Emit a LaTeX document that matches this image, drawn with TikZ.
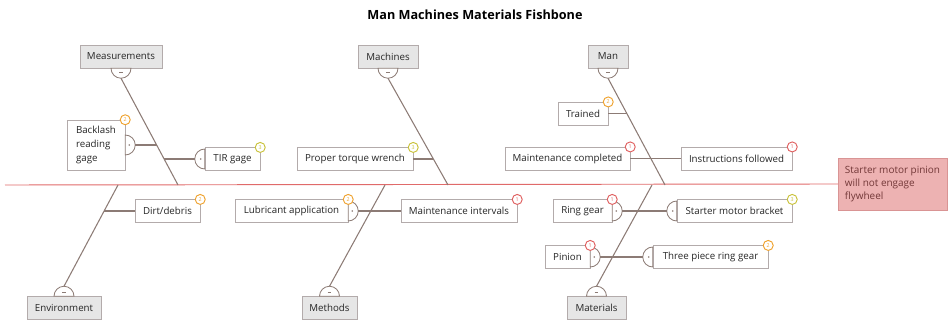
\documentclass[tikz,border=0pt]{standalone}
\usepackage{fontspec}
\setmainfont{Open Sans}
\usetikzlibrary{positioning}

\definecolor{bonecol}{HTML}{8C7B75}
\definecolor{spinecol}{HTML}{E06A6A}
\definecolor{boxline}{HTML}{B3ABAB}
\definecolor{catfill}{HTML}{E6E6E6}
\definecolor{effectfill}{HTML}{EDB2B2}
\definecolor{effectline}{HTML}{D99494}
\definecolor{txtcol}{HTML}{262626}
\definecolor{effecttxt}{HTML}{733838}
\definecolor{bred}{HTML}{E06060}
\definecolor{borange}{HTML}{EFA22E}
\definecolor{byellow}{HTML}{C9C23A}

\begin{document}
\begin{tikzpicture}[x=0.03cm,y=-0.03cm,
  every node/.style={font=\fontsize{8.3}{9.5}\selectfont,text=txtcol},
  bw/.style={minimum width=#1*0.03cm},
  catbox/.style={draw=boxline,fill=catfill,minimum height=0.69cm,inner sep=2pt},
  causebox/.style={draw=boxline,fill=white,minimum height=0.68cm,inner sep=2pt},
  bone/.style={draw=bonecol,line width=0.9pt},
  knob/.style={draw=bonecol,fill=white,line width=0.7pt},
  badge/.style={circle,draw=#1,fill=white,text=#1,line width=0.8pt,inner sep=0pt,
    minimum size=0.3cm,font=\fontsize{4.5}{4.5}\selectfont}]
\useasboundingbox (0,0) rectangle (949,320);

% title
\node[font=\bfseries\fontsize{10.8}{12}\selectfont,text=black] (title) at (475,15) {Man Machines Materials Fishbone};

% effect and spine
\node[draw=effectline,fill=effectfill,text=effecttxt,bw=109,minimum height=1.56cm,
  align=left,inner sep=4pt,font=\fontsize{8.5}{11}\selectfont] (effect) at (892.5,184) {Starter motor pinion\\will not engage\\flywheel};
\coordinate (tail) at (5,185);
\draw[spinecol,line width=0.8pt] (tail) -- (effect.west);

% categories
\node[catbox,bw=82] (meas) at (121,56.5) {Measurements};
\node[catbox,bw=60] (mach) at (388,56.5) {Machines};
\node[catbox,bw=40] (man) at (608,56.5) {Man};
\node[catbox,bw=74] (env) at (64,308) {Environment};
\node[catbox,bw=55] (meth) at (329.5,308) {Methods};
\node[catbox,bw=59] (mat) at (596.5,308) {Materials};

\foreach \n in {meas,mach,man}{
  \filldraw[knob] ([xshift=-0.3cm]\n.south) arc[start angle=180,end angle=360,radius=0.3cm] -- cycle;
  \draw[bonecol,line width=0.6pt] ([xshift=-1.5pt,yshift=-0.13cm]\n.south) -- ++(3pt,0);
  \coordinate (\n-h) at ([yshift=-0.3cm]\n.south);
}
\foreach \n in {env,meth,mat}{
  \filldraw[knob] ([xshift=-0.3cm]\n.north) arc[start angle=180,end angle=0,radius=0.3cm] -- cycle;
  \draw[bonecol,line width=0.6pt] ([xshift=-1.5pt,yshift=0.13cm]\n.north) -- ++(3pt,0);
  \coordinate (\n-h) at ([yshift=0.3cm]\n.north);
}

% where the bones meet the spine
\coordinate (meas-s) at (178,185);
\coordinate (mach-s) at (448,185);
\coordinate (man-s) at (665,185);
\coordinate (env-s) at (118,185);
\coordinate (meth-s) at (385,185);
\coordinate (mat-s) at (652,185);
\foreach \n in {meas,mach,man,env,meth,mat} \draw[bone] (\n-h) -- (\n-s);

% causes
\node[causebox,bw=58,minimum height=1.5cm,align=left,font=\fontsize{8.3}{12}\selectfont] (backlash) at (96,145) {Backlash\\reading\\gage};
\node[causebox,bw=55] (tir) at (232.5,159) {TIR gage};
\node[causebox,bw=65] (dirt) at (167.5,211) {Dirt/debris};
\node[causebox,bw=116] (torque) at (355,159) {Proper torque wrench};
\node[causebox,bw=113] (lub) at (291.5,211) {Lubricant application};
\node[causebox,bw=116] (interval) at (459,211) {Maintenance intervals};
\node[causebox,bw=50] (trained) at (583,113.5) {Trained};
\node[causebox,bw=125] (compl) at (567.5,158.5) {Maintenance completed};
\node[causebox,bw=111] (instr) at (736.5,158.5) {Instructions followed};
\node[causebox,bw=59] (ring) at (582.5,211) {Ring gear};
\node[causebox,bw=115] (bracket) at (734.5,211) {Starter motor bracket};
\node[causebox,bw=45] (pinion) at (567.5,257) {Pinion};
\node[causebox,bw=115] (three) at (710.5,257) {Three piece ring gear};

\foreach \n in {backlash,lub,ring,pinion}{
  \filldraw[knob] ([yshift=0.3cm]\n.east) arc[start angle=90,end angle=-90,radius=0.3cm] -- cycle;
  \fill[bonecol] ([xshift=0.12cm]\n.east) circle (0.7pt);
  \coordinate (\n-h) at ([xshift=0.3cm]\n.east);
}
\foreach \n in {tir,bracket,three}{
  \filldraw[knob] ([yshift=0.3cm]\n.west) arc[start angle=90,end angle=270,radius=0.3cm] -- cycle;
  \fill[bonecol] ([xshift=-0.12cm]\n.west) circle (0.7pt);
  \coordinate (\n-h) at ([xshift=-0.3cm]\n.west);
}

% points on the bones
\coordinate (b-backlash) at (156.7,145);
\coordinate (b-tir) at (164.1,159);
\coordinate (b-dirt) at (104.2,211);
\coordinate (b-torque) at (433.4,159);
\coordinate (b-trained) at (626.9,113.5);

\draw[bone] (backlash-h) -- (b-backlash);
\draw[bone] (b-tir) -- (tir-h);
\draw[bone] (b-dirt) -- (dirt.west);
\draw[bone] (torque.east) -- (b-torque);
\draw[bone] (lub-h) -- (interval.west);
\draw[bone] (trained.east) -- (b-trained);
\draw[bone] (compl.east) -- (instr.west);
\draw[bone] (ring-h) -- (bracket-h);
\draw[bone] (pinion-h) -- (three-h);

% priority badges
\node[badge=borange] (backlash-b) at (backlash.north east) {2};
\node[badge=byellow] (tir-b) at (tir.north east) {3};
\node[badge=borange] (dirt-b) at (dirt.north east) {2};
\node[badge=byellow] (torque-b) at (torque.north east) {3};
\node[badge=borange] (lub-b) at (lub.north east) {2};
\node[badge=bred] (interval-b) at (interval.north east) {1};
\node[badge=borange] (trained-b) at (trained.north east) {2};
\node[badge=bred] (compl-b) at (compl.north east) {1};
\node[badge=bred] (instr-b) at (instr.north east) {1};
\node[badge=bred] (ring-b) at (ring.north east) {1};
\node[badge=byellow] (bracket-b) at (bracket.north east) {3};
\node[badge=bred] (pinion-b) at (pinion.north east) {1};
\node[badge=borange] (three-b) at (three.north east) {2};
\end{tikzpicture}
\end{document}
